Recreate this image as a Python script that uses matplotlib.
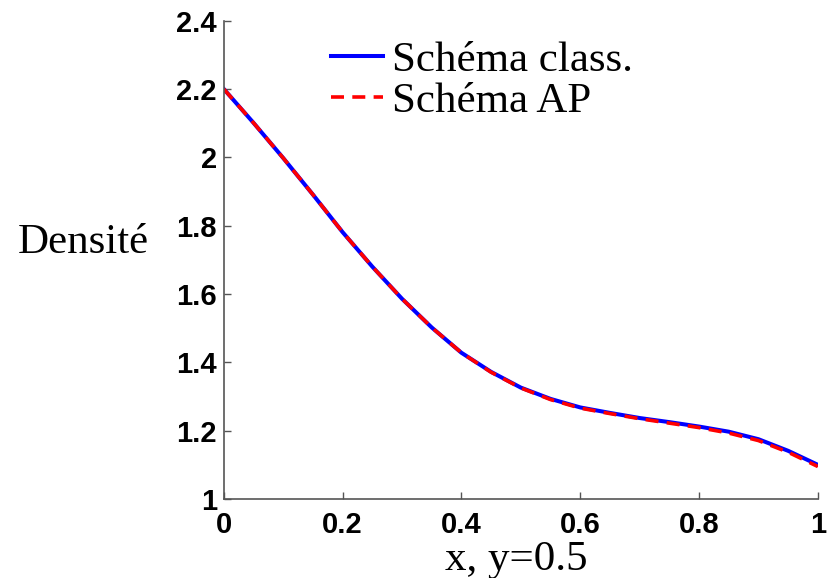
import matplotlib.pyplot as plt

x = [0.0, 0.05, 0.1, 0.15, 0.2, 0.25, 0.3, 0.35, 0.4, 0.45, 0.5,
     0.55, 0.6, 0.65, 0.7, 0.75, 0.8, 0.85, 0.9, 0.95, 1.0]
rho_class = [2.200, 2.101, 1.998, 1.891, 1.781, 1.680, 1.586, 1.502, 1.428, 1.372, 1.326,
             1.293, 1.268, 1.252, 1.237, 1.225, 1.212, 1.197, 1.175, 1.141, 1.100]
rho_ap = [2.200, 2.101, 1.998, 1.891, 1.781, 1.680, 1.586, 1.502, 1.428, 1.371, 1.325,
          1.291, 1.266, 1.250, 1.235, 1.222, 1.209, 1.193, 1.171, 1.137, 1.095]
xticks = [0, 0.2, 0.4, 0.6, 0.8, 1]
yticks = [1, 1.2, 1.4, 1.6, 1.8, 2, 2.2, 2.4]
xtick_labels = ['0', '0.2', '0.4', '0.6', '0.8', '1']
ytick_labels = ['1', '1.2', '1.4', '1.6', '1.8', '2', '2.2', '2.4']

serif = 'Liberation Serif'
sans = 'Liberation Sans'

fig = plt.figure(figsize=(8.32, 5.78), dpi=100)
ax = fig.add_axes([0.269, 0.1367, 0.714, 0.8275])

ax.plot(x, rho_class, color='#0000ff', linewidth=2.9, label='Schéma class.')
ax.plot(x, rho_ap, color='#ff0000', linewidth=2.6, dashes=(3.6, 2.3),
        label='Schéma AP')

ax.set_xlim(0, 1)
ax.set_ylim(1, 2.4)
ax.set_xticks(xticks)
ax.set_xticklabels(xtick_labels)
ax.set_yticks(yticks)
ax.set_yticklabels(ytick_labels)

for lab in ax.get_xticklabels() + ax.get_yticklabels():
    lab.set_fontfamily(sans)
    lab.set_fontweight('bold')
    lab.set_fontsize(21)

ax.tick_params(axis='x', direction='in', length=5, width=1, pad=9, colors='#555555',
               labelcolor='black')
ax.tick_params(axis='y', direction='in', length=5, width=1, pad=5, colors='#555555',
               labelcolor='black')

# only left/bottom axes, like the matlab export
ax.spines['top'].set_visible(False)
ax.spines['right'].set_visible(False)
for side in ('left', 'bottom'):
    ax.spines[side].set_color('#555555')
    ax.spines[side].set_linewidth(1.2)

ax.set_xlabel('x, y=0.5', fontfamily=serif, fontsize=31)
ax.xaxis.set_label_coords(0.493, -0.126)
ax.xaxis.label.set_va('center')
ax.set_ylabel('Densité', fontfamily=serif, fontsize=31, rotation=0,
              ha='center', va='center')
ax.yaxis.set_label_coords(-0.237, 0.535)

leg = ax.legend(loc='upper left', bbox_to_anchor=(0.173, 0.967), frameon=False,
                prop={'family': serif, 'size': 31}, handlelength=1.2,
                handletextpad=0.22, labelspacing=0.04, borderpad=0.1,
                borderaxespad=0.0)

fig.savefig('out.png', dpi=100)
